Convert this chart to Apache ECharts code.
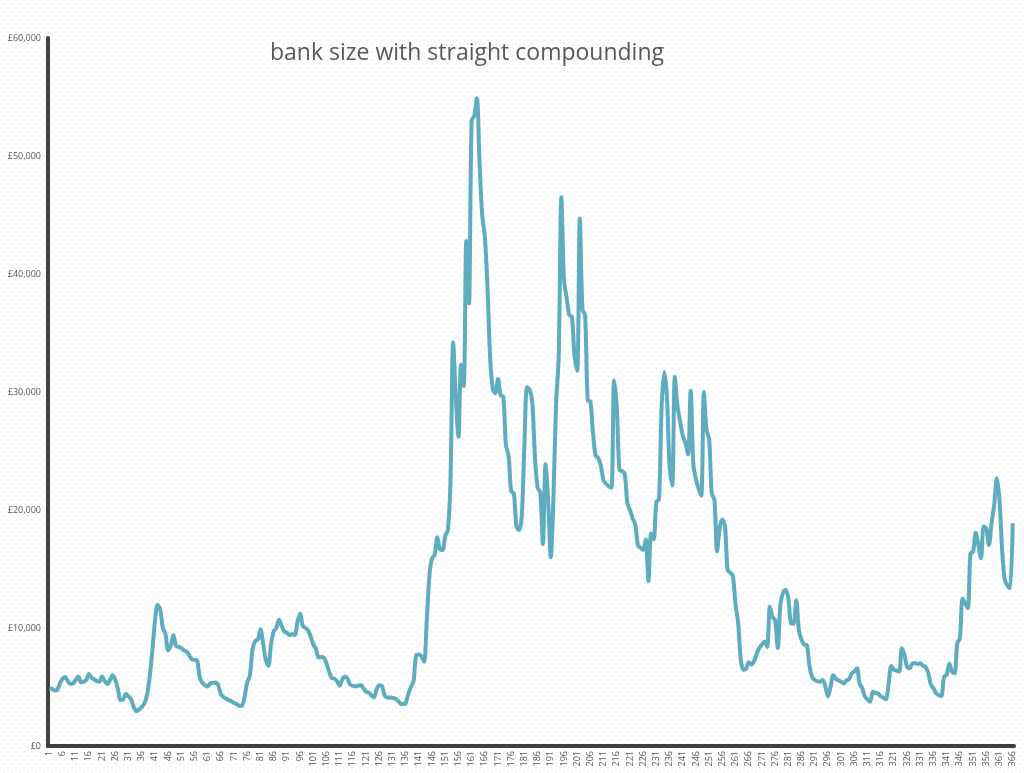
<!DOCTYPE html>
<html>
<head>
<meta charset="utf-8">
<script src="https://cdn.jsdelivr.net/npm/echarts@6/dist/echarts.min.js"></script>
<style>
html,body{margin:0;padding:0;background:#fff;}
#chart{width:1024px;height:773px;
background-color:#fff;
background-image:radial-gradient(circle, #e4e4e4 0.5px, transparent 0.9px), radial-gradient(circle, #e4e4e4 0.5px, transparent 0.9px);
background-size:8px 8px, 8px 8px;
background-position:0 0, 4px 4px;}
</style>
</head>
<body>
<div id="chart"></div>
<script>
const titleText = "bank size with straight compounding";
const yTicks = [0, 10000, 20000, 30000, 40000, 50000, 60000];
const days = [];
for (let d = 1; d <= 366; d++) days.push(String(d));
const bankSize = [
4900,4850,4700,4750,5300,5700,5850,5500,5250,5300,
5600,5900,5400,5450,5600,6100,5800,5650,5500,5450,
5900,5500,5250,5600,6000,5600,4800,3900,3950,4400,
4200,3950,3300,2950,3100,3300,3600,4300,5800,8000,
10500,11950,11600,10000,9500,8100,8500,9400,8500,8400,
8300,8100,8000,7700,7350,7300,7250,5800,5350,5150,
5050,5300,5350,5380,5150,4400,4150,4000,3900,3800,
3650,3550,3400,3420,4200,5400,6000,8200,8900,9000,
9900,8700,7300,6800,8600,9700,10000,10700,10200,9700,
9600,9400,9500,9400,10500,11200,10200,10000,9800,9300,
8600,8250,7500,7550,7500,7000,6300,5750,5700,5500,
5100,5650,5880,5700,5200,5100,5050,5100,5180,4900,
4600,4520,4300,4120,4800,5150,5100,4300,4120,4120,
4080,4030,3850,3600,3550,3620,4400,5000,5500,7700,
7750,7600,7150,10600,14400,15900,16200,17700,16700,16600,
17800,18300,22500,34200,29600,26200,32300,30500,42800,37500,
53000,53400,54900,49500,45000,43200,39000,33000,30300,29900,
31100,29700,29600,25500,24600,21600,21400,18600,18300,19500,
25500,30400,30200,29100,24500,21900,21500,17100,23900,20800,
16000,21000,29000,33000,46500,39500,38000,36500,36400,33000,
31800,44700,37000,36500,29300,29200,26500,24600,24400,23700,
22500,22200,22000,21900,31000,28700,23400,23300,23100,20600,
20000,19300,18800,17000,16800,16600,17500,14000,18000,17500,
20700,20900,28800,31700,29600,23700,22100,31300,28800,27500,
26300,25700,24700,30100,23900,22600,21800,21200,30000,26800,
26000,21400,20850,16500,18500,19200,18600,14900,14700,14400,
12000,10400,7300,6450,6550,7100,6900,7200,7800,8300,
8600,8850,8400,11800,10950,10650,8300,12000,13000,13250,
12500,10400,10350,12350,9800,9000,8600,8550,6800,5870,
5600,5500,5450,5600,5050,4200,5000,6000,5700,5550,
5450,5300,5550,5650,6150,6300,6580,5300,4900,4200,
3950,3750,4600,4500,4450,4200,4100,3960,5300,6780,
6450,6400,6300,8280,7700,6700,6580,7000,7010,6950,
7010,6800,6700,6210,5200,4890,4470,4300,4240,5870,
6020,7000,6300,6160,8700,9130,12500,12100,11670,16300,
16470,18080,17030,15900,18600,18450,17030,18870,20420,22690,
20850,16610,14070,13600,13360,18870
];

const chart = echarts.init(document.getElementById('chart'), null, {renderer:'canvas'});
chart.setOption({
  backgroundColor: 'transparent',
  animation: false,
  title: {
    text: titleText,
    left: 265,
    top: 37,
    textStyle: {fontFamily: 'Open Sans', fontSize: 23, fontWeight: 'normal', color: '#595959'}
  },
  grid: {left: 48, right: 10, top: 38, bottom: 27, containLabel: false},
  xAxis: {
    type: 'category',
    data: days,
    boundaryGap: true,
    axisLine: {show: true, lineStyle: {color: '#404040', width: 4}},
    axisTick: {show: false},
    axisLabel: {interval: 4, rotate: 90, fontSize: 9, color: '#595959', margin: 5, fontFamily: 'Open Sans'},
    splitLine: {show: false}
  },
  yAxis: {
    type: 'value',
    min: yTicks[0],
    max: yTicks[yTicks.length - 1],
    interval: 10000,
    axisLine: {show: true, lineStyle: {color: '#404040', width: 4}},
    axisTick: {show: false},
    splitLine: {show: false},
    axisLabel: {
      fontSize: 9, color: '#595959', margin: 7, fontFamily: 'Open Sans',
      formatter: v => '£' + v.toLocaleString('en-GB')
    }
  },
  series: [{
    type: 'line',
    data: bankSize,
    showSymbol: false,
    smooth: 0.3,
    lineStyle: {color: '#5EACBF', width: 4},
    itemStyle: {color: '#5EACBF'}
  }]
});
</script>
</body>
</html>
